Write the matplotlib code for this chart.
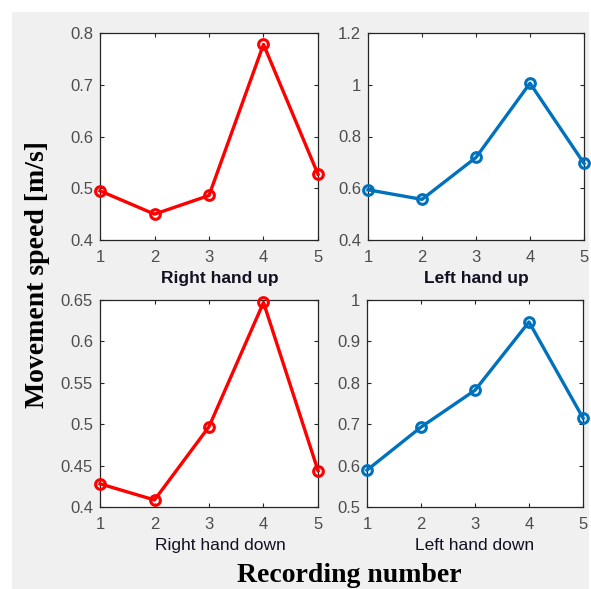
"""Movement speed per recording, four hand/direction panels (MATLAB-style look)."""
import numpy as np
import matplotlib

matplotlib.use("Agg")
import matplotlib.pyplot as plt
from matplotlib.patches import Rectangle
from matplotlib.ticker import FuncFormatter

recordings = [1, 2, 3, 4, 5]

right_up = [0.495, 0.450, 0.486, 0.778, 0.527]
left_up = [0.594, 0.557, 0.719, 1.006, 0.696]
right_down = [0.428, 0.4085, 0.497, 0.647, 0.444]
left_down = [0.589, 0.693, 0.782, 0.947, 0.715]

panels = [
    ("Right hand up", right_up, "#ff0000", [0.4, 0.5, 0.6, 0.7, 0.8], "bold"),
    ("Left hand up", left_up, "#0072bd", [0.4, 0.6, 0.8, 1.0, 1.2], "bold"),
    ("Right hand down", right_down, "#ff0000",
     [0.4, 0.45, 0.5, 0.55, 0.6, 0.65], "normal"),
    ("Left hand down", left_down, "#0072bd",
     [0.5, 0.6, 0.7, 0.8, 0.9, 1.0], "normal"),
]

W, H = 591, 589
# axes boxes in pixels: left, top, right, bottom
boxes = [
    (100, 33, 318, 240),
    (368, 33, 584, 240),
    (100, 300, 318, 507),
    (367, 300, 583, 507),
]
label_x = [0.55, 0.5, 0.55, 0.5]

plt.rcParams["font.family"] = ["Liberation Sans", "DejaVu Sans"]

fig = plt.figure(figsize=(W / 100, H / 100), dpi=100, facecolor="white")
fig.patches.append(Rectangle((12 / W, 0), (589 - 12) / W, 1 - 12 / H,
                             transform=fig.transFigure, facecolor="#f0f0f0",
                             edgecolor="none", zorder=-10))


def fmt(v, _pos):
    return f"{v:g}"


for (title, vals, color, yticks, weight), (l, t, r, b), lx in zip(
        panels, boxes, label_x):
    ax = fig.add_axes([l / W, 1 - b / H, (r - l) / W, (b - t) / H])
    ax.plot(recordings, vals, "-o", color=color, lw=2.4, ms=7, mew=2.2,
            mfc="none", clip_on=False, zorder=3)
    ax.set_xlim(1, 5)
    ax.set_ylim(yticks[0], yticks[-1])
    ax.set_xticks(recordings)
    ax.set_yticks(yticks)
    ax.yaxis.set_major_formatter(FuncFormatter(fmt))
    ax.tick_params(direction="in", length=3, width=0.8, top=True, right=True,
                   labelsize=12, labelcolor="#4d4d4d", color="#262626")
    ax.tick_params(axis="x", pad=7)
    ax.tick_params(axis="y", pad=5)
    for sp in ax.spines.values():
        sp.set_color("#262626")
        sp.set_linewidth(0.9)
    ax.set_xlabel(title, fontsize=12.5, fontweight=weight, color="#111122",
                  labelpad=3)
    ax.xaxis.set_label_coords(lx, -0.15)

fig.text(38 / W, 1 - 275 / H, "Movement speed [m/s]", rotation=90,
         ha="center", va="center", fontsize=20, fontweight="bold",
         family=["Liberation Serif", "DejaVu Serif"], color="black")
fig.text(349 / W, 1 - 576 / H, "Recording number", ha="center",
         va="center", fontsize=20, fontweight="bold",
         family=["Liberation Serif", "DejaVu Serif"], color="black")

fig.savefig("out.png", dpi=100, facecolor=fig.get_facecolor())
